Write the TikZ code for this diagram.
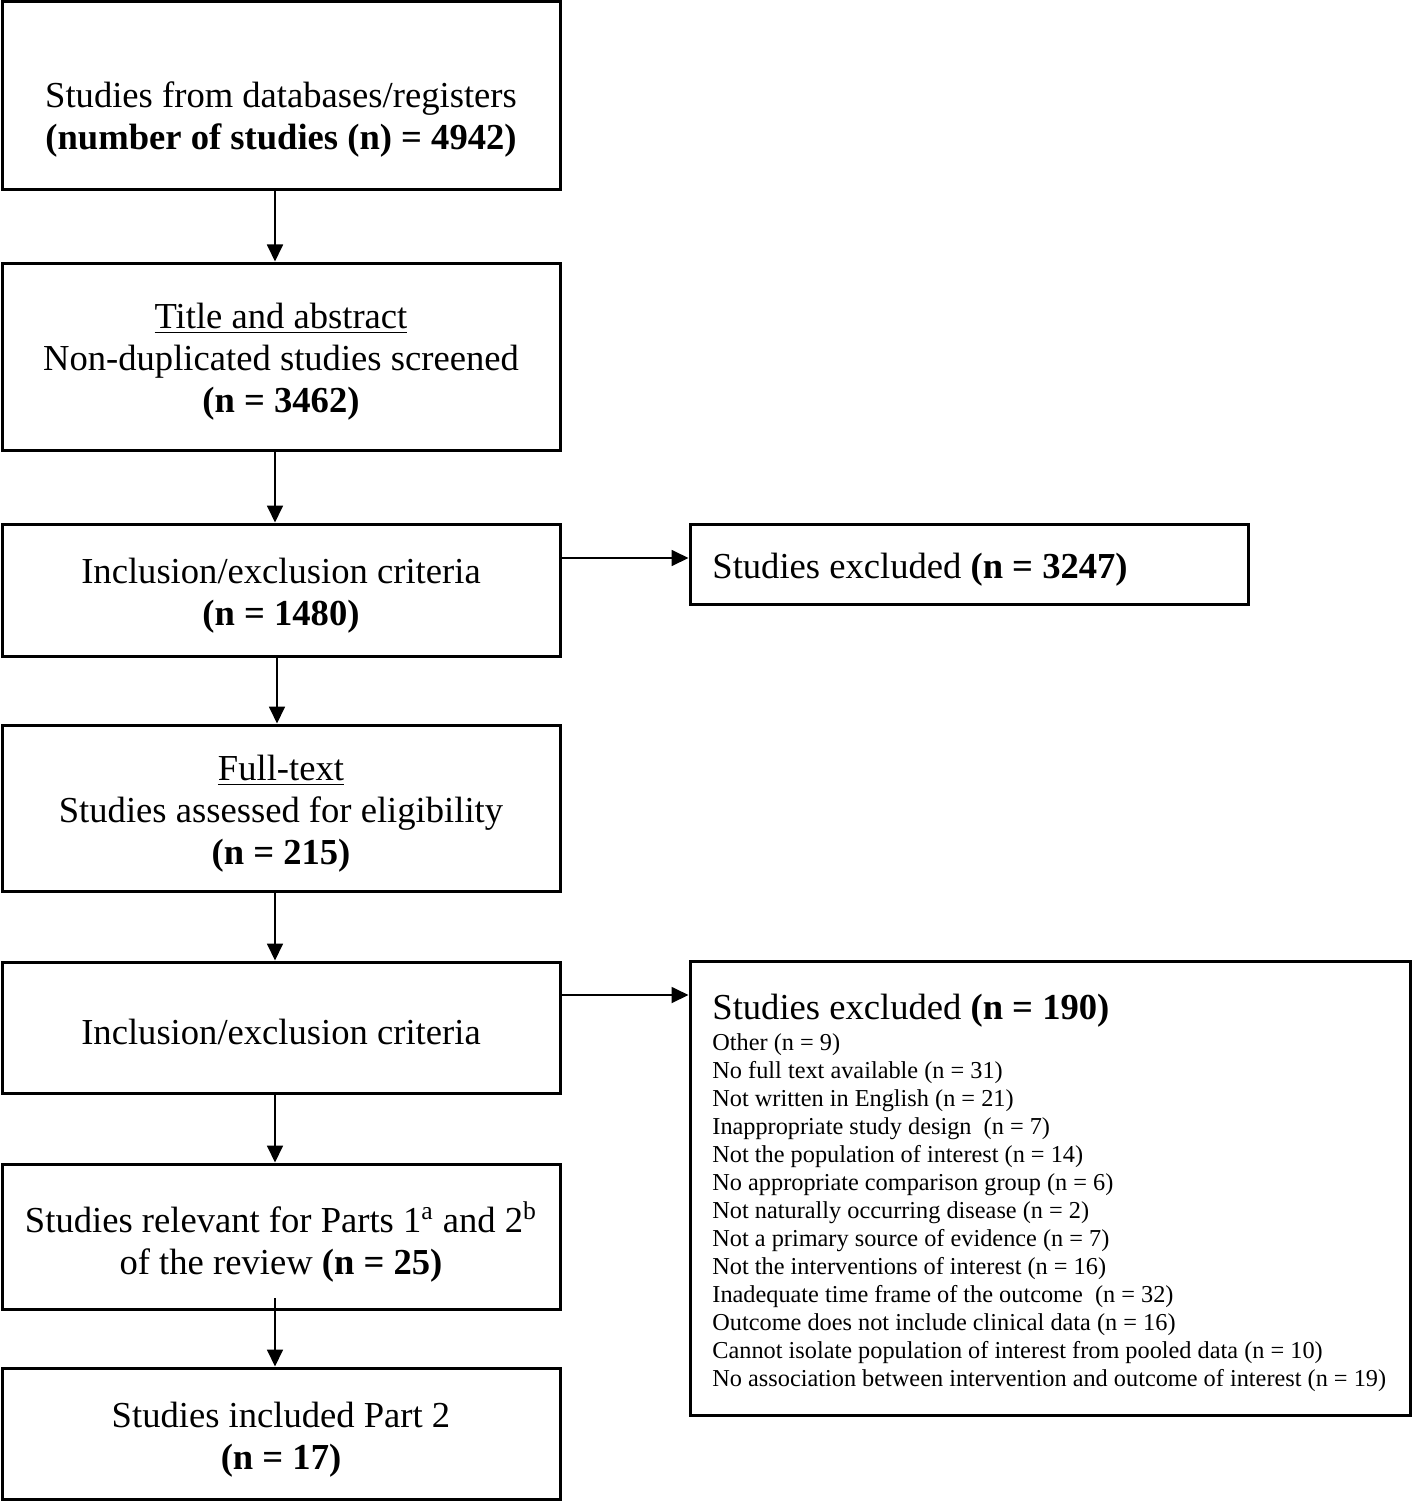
\documentclass[tikz,border=0pt]{standalone}
\usepackage{fontspec}
\setmainfont{Liberation Serif}
\usetikzlibrary{arrows.meta}
\begin{document}
\begin{tikzpicture}[x=0.5pt,y=-0.5pt,
 box/.style={draw, line width=1.5pt, rectangle, inner sep=0pt},
 txt/.style={inner sep=0pt, align=center, font=\fontsize{18.3}{21}\selectfont},
 small/.style={inner sep=0pt, anchor=west, font=\fontsize{12.15}{14}\selectfont},
 arr/.style={line width=0.9pt, -{Triangle[length=8.5pt,width=8pt]}}]
\useasboundingbox (0,0) rectangle (1413,1503);
% boxes
\node[box, minimum width=279pt, minimum height=94pt] (b1) at (281,96) {};
\node[box, minimum width=279pt, minimum height=93.5pt] (b2) at (281,356.5) {};
\node[box, minimum width=279pt, minimum height=66pt] (b3) at (281,590) {};
\node[box, minimum width=279pt, minimum height=83pt] (b4) at (281,808) {};
\node[box, minimum width=279pt, minimum height=65.5pt] (b5) at (281,1027.5) {};
\node[box, minimum width=279pt, minimum height=72.5pt] (b6) at (281,1236.5) {};
\node[box, minimum width=279pt, minimum height=65.5pt] (b7) at (281,1433.5) {};
\node[box, minimum width=279pt, minimum height=40pt] (bA) at (969,564) {};
\node[box, minimum width=360pt, minimum height=227pt] (bB) at (1050,1188) {};
% texts
\node[txt] (t1) at (281,120) {Studies from databases/registers\\\textbf{(number of studies (n) = 4942)}};
\node[txt] (t2) at (281,362) {\underline{Title and abstract}\\Non-duplicated studies screened\\\textbf{(n = 3462)}};
\node[txt] (t3) at (281,596) {Inclusion/exclusion criteria\\\textbf{(n = 1480)}};
\node[txt] (t4) at (281,814) {\underline{Full-text}\\Studies assessed for eligibility\\\textbf{(n = 215)}};
\node[txt] (t5) at (281,1032) {Inclusion/exclusion criteria};
\node[txt] (t6) at (281,1242) {Studies relevant for Parts 1\textsuperscript{a} and 2\textsuperscript{b}\\of the review \textbf{(n = 25)}};
\node[txt] (t7) at (281,1440) {Studies included Part 2\\\textbf{(n = 17)}};
\node[txt, anchor=west] (tA) at (712,570) {Studies excluded \textbf{(n = 3247)}};
\node[txt, anchor=west] (tB) at (712,1011) {Studies excluded \textbf{(n = 190)}};
\foreach \t [count=\i] in {{Other (n = 9)},
 {No full text available (n = 31)},
 {Not written in English (n = 21)},
 {Inappropriate study design\ \ (n = 7)},
 {Not the population of interest (n = 14)},
 {No appropriate comparison group (n = 6)},
 {Not naturally occurring disease (n = 2)},
 {Not a primary source of evidence (n = 7)},
 {Not the interventions of interest (n = 16)},
 {Inadequate time frame of the outcome\ \ (n = 32)},
 {Outcome does not include clinical data (n = 16)},
 {Cannot isolate population of interest from pooled data (n = 10)},
 {No association between intervention and outcome of interest (n = 19)}}
 \node[small] (l\i) at (712,{1045+28*(\i-1)}) {\t};
% connectors
\coordinate (v1) at (275,0);
\coordinate (v2) at (277,0);
\draw[arr] (b1.south -| v1) -- (b2.north -| v1);
\draw[arr] (b2.south -| v1) -- (b3.north -| v1);
\draw[arr] (b3.south -| v2) -- (b4.north -| v2);
\draw[arr] (b4.south -| v1) -- (b5.north -| v1);
\draw[arr] (b5.south -| v1) -- (b6.north -| v1);
\coordinate (s6) at (275,1298);
\draw[arr] (s6) -- (s6 |- b7.north);
\coordinate (h1) at (561,558);
\draw[arr] (h1) -- (h1 -| bA.west);
\coordinate (h2) at (561,995);
\draw[arr] (h2) -- (h2 -| bB.west);
\end{tikzpicture}
\end{document}
